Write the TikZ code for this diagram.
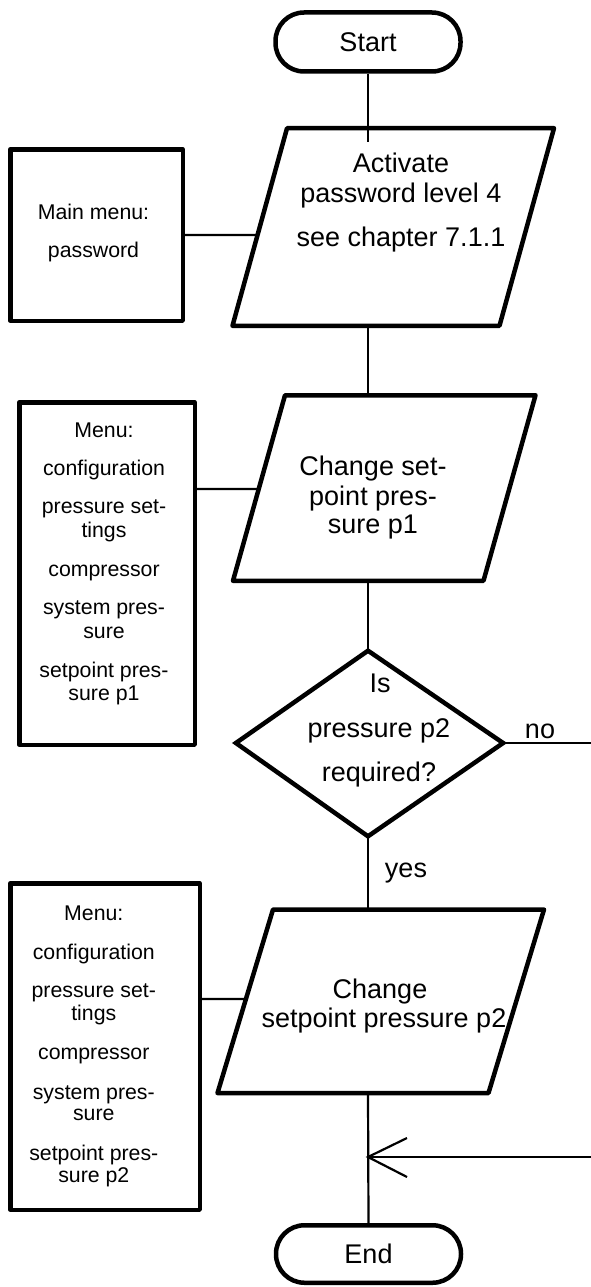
\documentclass[tikz,border=0pt]{standalone}
\usepackage{fontspec}
\setmainfont{Liberation Sans}
\begin{document}
\begin{tikzpicture}[x=1pt,y=-1pt,
  shapeline/.style={draw=black,line width=4.5pt,line join=round},
  conn/.style={draw=black,line width=2.2pt},
  maintext/.style={font=\fontsize{27}{30}\selectfont,anchor=base,inner sep=0pt},
  menutext/.style={font=\fontsize{21.3}{23.5}\selectfont,anchor=base,inner sep=0pt},
  terminal/.style={shapeline,rectangle,rounded corners=28.5pt,minimum width=185pt,minimum height=59pt,inner sep=0pt,font=\fontsize{27}{30}\selectfont},
  menubox/.style={shapeline,rectangle,inner sep=0pt}]
\useasboundingbox (0,0) rectangle (591,1287);

% terminals
\node[terminal] (start) at (368,42) {Start};
\node[terminal,minimum height=57.5pt] (end) at (368.5,1254) {End};

% parallelogram 1
\coordinate (p1tl) at (287,128.25);
\coordinate (p1tr) at (554,128.25);
\coordinate (p1br) at (499.5,325.75);
\coordinate (p1bl) at (232.5,325.75);
\coordinate (p1top) at (368,128.25);
\coordinate (p1bot) at (368,325.75);
\draw[shapeline] (p1tl) -- (p1tr) -- (p1br) -- (p1bl) -- cycle;
\node[maintext] (t1a) at (401,172.5) {Activate};
\node[maintext] (t1b) at (401,202) {password level 4};
\node[maintext] (t1c) at (401,246) {see chapter 7.1.1};

% parallelogram 2
\coordinate (p2tl) at (285,395.25);
\coordinate (p2tr) at (535.5,395.25);
\coordinate (p2br) at (483.5,580.75);
\coordinate (p2bl) at (233,580.75);
\coordinate (p2top) at (368,395.25);
\coordinate (p2bot) at (368,580.75);
\draw[shapeline] (p2tl) -- (p2tr) -- (p2br) -- (p2bl) -- cycle;
\node[maintext] (t2a) at (373,475) {Change set-};
\node[maintext] (t2b) at (373,505) {point pres-};
\node[maintext] (t2c) at (373,533) {sure p1};

% decision
\coordinate (dt) at (368,650.7);
\coordinate (dr) at (503.1,743);
\coordinate (db) at (368,836.3);
\coordinate (dl) at (235.9,743);
\draw[shapeline,line join=miter] (dt) -- (dr) -- (db) -- (dl) -- cycle;
\node[maintext] (tda) at (380,692) {Is};
\node[maintext] (tdb) at (379,737) {pressure p2};
\node[maintext] (tdc) at (379,781) {required?};

% parallelogram 3
\coordinate (p3tl) at (273,909.5);
\coordinate (p3tr) at (544,909.5);
\coordinate (p3br) at (488.5,1093);
\coordinate (p3bl) at (217.5,1093);
\coordinate (p3top) at (368,909.5);
\coordinate (p3bot) at (368,1093);
\draw[shapeline] (p3tl) -- (p3tr) -- (p3br) -- (p3bl) -- cycle;
\node[maintext] (t3a) at (380,998) {Change};
\node[maintext] (t3b) at (384,1027) {setpoint pressure p2};

% menu boxes
\node[menubox,minimum width=172.5pt,minimum height=171.5pt] (box1) at (96.5,235) {};
\node[menutext] (m1a) at (93.5,219.5) {Main menu:};
\node[menutext] (m1b) at (93.5,257) {password};

\node[menubox,minimum width=175.5pt,minimum height=342.5pt] (box2) at (107,573.5) {};
\foreach \txt/\yy [count=\i] in {Menu:/437,configuration/475,pressure set-/513,tings/537,compressor/576,system pres-/614,sure/638,setpoint pres-/677,sure p1/700}
  \node[menutext] (m2l\i) at (104,\yy) {\txt};

\node[menubox,minimum width=189.5pt,minimum height=326.5pt] (box3) at (105,1046.5) {};
\foreach \txt/\yy [count=\i] in {Menu:/920,configuration/959,pressure set-/997,tings/1020,compressor/1059,system pres-/1099,sure/1120,setpoint pres-/1160,sure p2/1182}
  \node[menutext] (m3l\i) at (93.8,\yy) {\txt};

% helper coordinates
\coordinate (ov1) at (368,142);
\coordinate (k1) at (400,235);
\coordinate (k2l) at (0,489);
\coordinate (k2r) at (400,489);
\coordinate (k3l) at (0,999);
\coordinate (k3r) at (400,999);
\coordinate (noend) at (591,743);
\coordinate (rin) at (591,1157);
\coordinate (join) at (368,1157);
\coordinate (ah1) at (407,1138);
\coordinate (ah2) at (407,1177);

% connectors
\draw[conn] (start.south) -- (ov1);
\draw[conn] (p1bot) -- (p2top);
\draw[conn] (p2bot) -- (dt);
\draw[conn] (dr) -- (noend);
\draw[conn] (db) -- (p3top);
\draw[conn] (p3bot) -- (end.north);
\draw[conn] (rin) -- (join);
\draw[conn] (ah1) -- (join) -- (ah2);
\draw[conn] (box1.east) -- (intersection of p1bl--p1tl and box1.east--k1);
\draw[conn] (intersection of box2.north east--box2.south east and k2l--k2r) -- (intersection of p2bl--p2tl and k2l--k2r);
\draw[conn] (intersection of box3.north east--box3.south east and k3l--k3r) -- (intersection of p3bl--p3tl and k3l--k3r);

% labels
\node[maintext] (nolab) at (540,738.5) {no};
\node[maintext] (yeslab) at (406,877) {yes};
\end{tikzpicture}
\end{document}
